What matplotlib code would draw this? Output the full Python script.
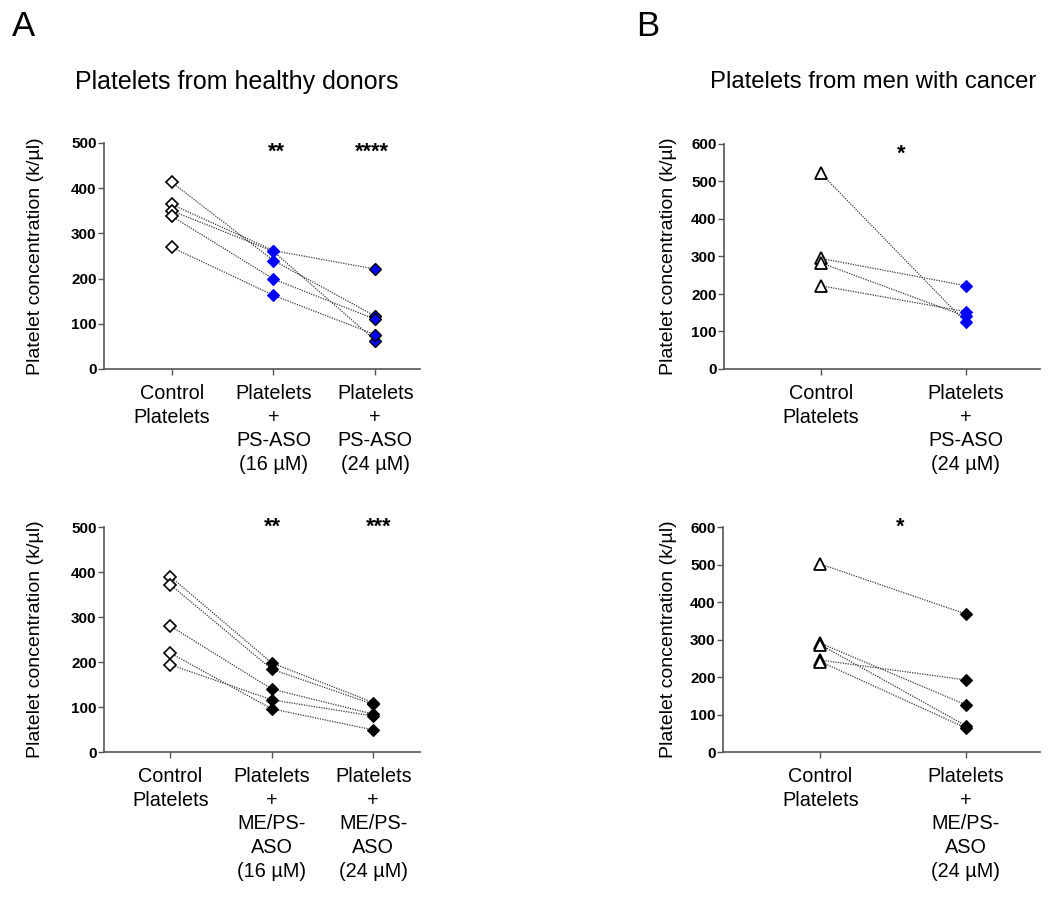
import matplotlib
matplotlib.use("Agg")
import matplotlib.pyplot as plt

plt.rcParams['font.family'] = ['Liberation Sans', 'DejaVu Sans']

# ---------------- data ----------------
cats_A_top = ["Control\nPlatelets", "Platelets\n+\nPS-ASO\n(16 µM)", "Platelets\n+\nPS-ASO\n(24 µM)"]
cats_A_bot = ["Control\nPlatelets", "Platelets\n+\nME/PS-\nASO\n(16 µM)", "Platelets\n+\nME/PS-\nASO\n(24 µM)"]
cats_B_top = ["Control\nPlatelets", "Platelets\n+\nPS-ASO\n(24 µM)"]
cats_B_bot = ["Control\nPlatelets", "Platelets\n+\nME/PS-\nASO\n(24 µM)"]

# healthy donors, PS-ASO (control, 16 µM, 24 µM) per donor
A_top_ctrl = [413, 364, 350, 338, 269]
A_top_16 = [240, 262, 260, 199, 163]
A_top_24 = [117, 221, 63, 110, 76]

# healthy donors, ME/PS-ASO
A_bot_ctrl = [390, 372, 280, 220, 194]
A_bot_16 = [198, 184, 140, 96, 116]
A_bot_24 = [110, 106, 84, 49, 80]

# men with cancer, PS-ASO 24 µM
B_top_ctrl = [522, 295, 283, 222]
B_top_24 = [124, 222, 140, 153]

# men with cancer, ME/PS-ASO 24 µM
B_bot_ctrl = [501, 290, 286, 245, 241]
B_bot_24 = [368, 126, 70, 192, 64]

sig_A_top = ["**", "****"]
sig_A_bot = ["**", "***"]
sig_B_top = ["*"]
sig_B_bot = ["*"]

BLUE = "#0000ff"
LINEC = "#3a3a3a"
SPINEC = "#555555"

W, H = 1058, 897
fig = plt.figure(figsize=(W / 100, H / 100), dpi=100)


def ax_px(left, right, bottom, top):
    return fig.add_axes([left / W, 1 - bottom / H, (right - left) / W, (bottom - top) / H])


def style(ax, ymax, cats, xlim, label_x):
    ax.set_ylim(0, ymax)
    ax.set_xlim(*xlim)
    for s in ["top", "right"]:
        ax.spines[s].set_visible(False)
    for s in ["left", "bottom"]:
        ax.spines[s].set_color(SPINEC)
        ax.spines[s].set_linewidth(1.2)
    ax.set_yticks(range(0, ymax + 1, 100))
    ax.set_yticklabels([str(v) for v in range(0, ymax + 1, 100)], fontweight="bold", fontsize=11)
    ax.set_xticks(range(len(cats)))
    ax.set_xticklabels(cats, fontsize=14.3, linespacing=1.33, va="top")
    ax.tick_params(axis="both", color=SPINEC, width=1.0, length=4.5, direction="out")
    ax.tick_params(axis="y", pad=0.8)
    ax.tick_params(axis="x", pad=6)
    ax.set_ylabel("Platelet concentration (k/µl)", fontsize=14)
    ax.yaxis.set_label_coords(label_x, 0.5)


def draw_series(ax, cols, markers):
    n = len(cols[0])
    for i in range(n):
        ys = [c[i] for c in cols]
        ax.plot(range(len(cols)), ys, linestyle=(0, (1, 1)), color=LINEC, linewidth=0.9, zorder=2)
    for j, c in enumerate(cols):
        m = markers[j]
        ax.plot([j] * len(c), c, linestyle="none", marker=m[0], markersize=m[1],
                markerfacecolor=m[2], markeredgecolor=m[3], markeredgewidth=m[4],
                zorder=3, clip_on=False)


open_d = ("D", 5.8, "white", "black", 1.2)
blue_d = ("D", 5.8, BLUE, BLUE, 0.8)
blue_dk = ("D", 5.8, BLUE, "black", 1.0)
black_d = ("D", 5.8, "black", "black", 0.8)
open_t = ("^", 8.5, "white", "black", 1.3)

# A top
ax1 = ax_px(104, 420, 369, 143)
style(ax1, 500, cats_A_top, (-0.666, 2.44), (44 - 104) / 316)
draw_series(ax1, [A_top_ctrl, A_top_16, A_top_24], [open_d, blue_d, blue_dk])
for x, s in zip([1.03, 1.97], sig_A_top):
    ax1.text(x, 480, s, ha="center", va="center", fontsize=15.5, fontweight="bold")

# A bottom
ax2 = ax_px(104, 420, 752, 527)
style(ax2, 500, cats_A_bot, (-0.652, 2.46), (44 - 104) / 316)
draw_series(ax2, [A_bot_ctrl, A_bot_16, A_bot_24], [open_d, black_d, black_d])
for x, s in zip([1.01, 2.05], sig_A_bot):
    ax2.text(x, 500, s, ha="center", va="center", fontsize=15.5, fontweight="bold")

# B top
ax3 = ax_px(724, 1040, 369, 144)
style(ax3, 600, cats_B_top, (-0.667, 1.51), (677 - 724) / 316)
draw_series(ax3, [B_top_ctrl, B_top_24], [open_t, blue_d])
ax3.text(0.55, 573, sig_B_top[0], ha="center", va="center", fontsize=15.5, fontweight="bold")

# B bottom
ax4 = ax_px(723, 1040, 752, 527)
style(ax4, 600, cats_B_bot, (-0.67, 1.51), (677 - 723) / 317)
draw_series(ax4, [B_bot_ctrl, B_bot_24], [open_t, black_d])
ax4.text(0.55, 600, sig_B_bot[0], ha="center", va="center", fontsize=15.5, fontweight="bold")

# panel letters and titles
fig.text(12 / W, 1 - 27 / H, "A", fontsize=25, ha="left", va="center")
fig.text(636 / W, 1 - 27 / H, "B", fontsize=25, ha="left", va="center")
fig.text(237 / W, 1 - 82 / H, "Platelets from healthy donors", fontsize=18, ha="center", va="center")
fig.text(873 / W, 1 - 82 / H, "Platelets from men with cancer", fontsize=17.2, ha="center", va="center")

fig.savefig("out.png", dpi=100, facecolor="white")
